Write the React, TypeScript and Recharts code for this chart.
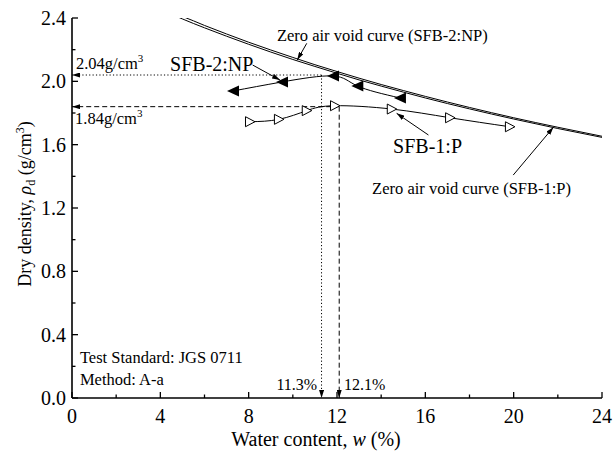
import React from "react";
import { Line, LineChart, ReferenceDot, ReferenceLine, XAxis, YAxis } from "recharts";

const serif = '"Liberation Serif", "Times New Roman", serif';

// SFB-2:NP compaction test (filled triangles)
const sfb2Water = [7.29, 9.51, 11.82, 12.92, 14.85];
const sfb2Density = [1.939, 1.996, 2.034, 1.971, 1.895];

// SFB-1:P compaction test (open triangles)
const sfb1Water = [8.06, 9.37, 10.63, 11.91, 14.48, 17.12, 19.83];
const sfb1Density = [1.745, 1.76, 1.815, 1.846, 1.825, 1.77, 1.713];

// zero air void curves
const zavWater = [4.8, 5, 6, 7, 8, 9, 10, 11, 12, 13, 14, 15, 16, 18, 20, 22, 24];
const zav2Density = [2.42, 2.41, 2.353, 2.299, 2.247, 2.198, 2.151, 2.105, 2.062, 2.02, 1.98, 1.942, 1.905, 1.835, 1.77, 1.71, 1.653];
const zav1Density = [2.406, 2.394, 2.338, 2.285, 2.234, 2.185, 2.138, 2.094, 2.051, 2.009, 1.97, 1.932, 1.895, 1.826, 1.762, 1.702, 1.646];

// optimum water content / max dry density
const optWater = [11.3, 12.1];
const optDensity = [2.04, 1.84];

const xTicks = [0, 2, 4, 6, 8, 10, 12, 14, 16, 18, 20, 22, 24];
const yTicks = [0, 0.2, 0.4, 0.6, 0.8, 1.0, 1.2, 1.4, 1.6, 1.8, 2.0, 2.2, 2.4];

const zip = (w: number[], d: number[]) => w.map((x, i) => ({ w: x, rho: d[i] }));
const sfb2 = zip(sfb2Water, sfb2Density);
const sfb1 = zip(sfb1Water, sfb1Density);
const zav2 = zip(zavWater, zav2Density);
const zav1 = zip(zavWater, zav1Density);

const isMajorX = (v: number) => Math.round(v) % 4 === 0;
const isMajorY = (v: number) => Math.round(v * 10) % 4 === 0;

function BottomTick(p: any) {
  const v = p.payload.value;
  const major = isMajorX(v);
  return (
    <g>
      <line x1={p.x} x2={p.x} y1={p.y} y2={p.y - (major ? 6 : 3.5)} stroke="#000" strokeWidth={1.3} />
      {major && (
        <text x={p.x} y={p.y + 25} textAnchor="middle" fontSize={20} fontFamily={serif} fill="#000">
          {v}
        </text>
      )}
    </g>
  );
}

function TopTick(p: any) {
  const major = isMajorX(p.payload.value);
  return <line x1={p.x} x2={p.x} y1={p.y} y2={p.y + (major ? 6 : 3.5)} stroke="#000" strokeWidth={1.3} />;
}

function LeftTick(p: any) {
  const v = p.payload.value;
  const major = isMajorY(v);
  return (
    <g>
      <line x1={p.x} x2={p.x + (major ? 6 : 3.5)} y1={p.y} y2={p.y} stroke="#000" strokeWidth={1.3} />
      {major && (
        <text x={p.x - 6} y={p.y + 7} textAnchor="end" fontSize={20} fontFamily={serif} fill="#000">
          {v.toFixed(1)}
        </text>
      )}
    </g>
  );
}

function RightTick(p: any) {
  const major = isMajorY(p.payload.value);
  return <line x1={p.x} x2={p.x - (major ? 6 : 3.5)} y1={p.y} y2={p.y} stroke="#000" strokeWidth={1.3} />;
}

function FilledLeft(p: any) {
  const { cx, cy } = p;
  return <path key={`f${p.index}`} d={`M${cx - 6},${cy}L${cx + 6},${cy - 5.5}L${cx + 6},${cy + 5.5}Z`} fill="#000" />;
}

function OpenRight(p: any) {
  const { cx, cy } = p;
  return (
    <path
      key={`o${p.index}`}
      d={`M${cx + 5},${cy}L${cx - 4.5},${cy - 5}L${cx - 4.5},${cy + 5}Z`}
      fill="#fff"
      stroke="#000"
      strokeWidth={1}
    />
  );
}

const arrowShape = (dash?: string) => (p: any) => (
  <line
    x1={p.x1}
    y1={p.y1}
    x2={p.x2}
    y2={p.y2}
    stroke="#000"
    strokeWidth={1}
    strokeDasharray={dash}
    markerEnd="url(#ah)"
  />
);

// label arrows: [from, to] in data units
const pointers = [
  [{ x: 10.63, y: 2.24 }, { x: 10.2, y: 2.135 }],
  [{ x: 8.18, y: 2.103 }, { x: 9.42, y: 2.008 }],
  [{ x: 16.14, y: 1.661 }, { x: 14.7, y: 1.798 }],
  [{ x: 19.98, y: 1.408 }, { x: 21.8, y: 1.71 }],
];

const textAt = (content: React.ReactNode, size: number, anchor = "start") => (p: any) => (
  <text x={p.cx} y={p.cy} fontSize={size} fontFamily={serif} fill="#000" textAnchor={anchor}>
    {content}
  </text>
);

const sup = (s: string) => (
  <>
    <tspan fontSize={11} dy={-7}>{s}</tspan>
    <tspan dy={7}></tspan>
  </>
);

export default function App() {
  return (
    <div style={{ position: "absolute", left: 0, top: 0, background: "#fff" }}>
      <LineChart width={614} height={453} margin={{ top: 18, right: 12, bottom: 25, left: 0 }}>
        <defs>
          <marker
            id="ah"
            viewBox="0 0 10 10"
            refX="10"
            refY="5"
            markerWidth="8"
            markerHeight="5"
            markerUnits="userSpaceOnUse"
            orient="auto"
            preserveAspectRatio="none"
          >
            <path d="M0,0L10,5L0,10Z" fill="#000" />
          </marker>
        </defs>
        <XAxis
          dataKey="w"
          type="number"
          domain={[0, 24]}
          ticks={xTicks}
          allowDataOverflow
          height={30}
          tickSize={0}
          tickMargin={0}
          tick={<BottomTick />}
          axisLine={{ stroke: "#000", strokeWidth: 1.6 }}
          interval={0}
        />
        <XAxis
          xAxisId="top"
          orientation="top"
          dataKey="w"
          type="number"
          domain={[0, 24]}
          ticks={xTicks}
          height={0}
          tickSize={0}
          tickMargin={0}
          tick={<TopTick />}
          axisLine={{ stroke: "#000", strokeWidth: 1.6 }}
          interval={0}
        />
        <YAxis
          type="number"
          domain={[0, 2.4]}
          ticks={yTicks}
          allowDataOverflow
          width={72}
          tickSize={0}
          tickMargin={0}
          tick={<LeftTick />}
          axisLine={{ stroke: "#000", strokeWidth: 1.6 }}
          interval={0}
        />
        <YAxis
          yAxisId="right"
          orientation="right"
          type="number"
          domain={[0, 2.4]}
          ticks={yTicks}
          width={0}
          tickSize={0}
          tickMargin={0}
          tick={<RightTick />}
          axisLine={{ stroke: "#000", strokeWidth: 1.6 }}
          interval={0}
        />

        <ReferenceLine segment={[{ x: optWater[0], y: optDensity[0] }, { x: 0, y: optDensity[0] }]} shape={arrowShape("1.2 2.2")} />
        <ReferenceLine segment={[{ x: optWater[0], y: optDensity[0] }, { x: optWater[0], y: 0 }]} shape={arrowShape("1.2 2.2")} />
        <ReferenceLine segment={[{ x: optWater[1], y: optDensity[1] }, { x: 0, y: optDensity[1] }]} shape={arrowShape("5 3")} />
        <ReferenceLine segment={[{ x: optWater[1], y: optDensity[1] }, { x: optWater[1], y: 0 }]} shape={arrowShape("5 3")} />
        {pointers.map((seg, i) => (
          <ReferenceLine key={`p${i}`} segment={seg} shape={arrowShape()} />
        ))}

        <Line data={zav2} dataKey="rho" type="monotone" stroke="#000" strokeWidth={1} dot={false} isAnimationActive={false} />
        <Line data={zav1} dataKey="rho" type="monotone" stroke="#000" strokeWidth={1} dot={false} isAnimationActive={false} />
        <Line data={sfb2} dataKey="rho" type="natural" stroke="#000" strokeWidth={1} dot={FilledLeft} isAnimationActive={false} />
        <Line data={sfb1} dataKey="rho" type="natural" stroke="#000" strokeWidth={1} dot={OpenRight} isAnimationActive={false} />

        <ReferenceDot x={9.28} y={2.255} r={0} shape={textAt("Zero air void curve (SFB-2:NP)", 16.5)} />
        <ReferenceDot x={13.59} y={1.288} r={0} shape={textAt("Zero air void curve (SFB-1:P)", 16.5)} />
        <ReferenceDot x={4.44} y={2.065} r={0} shape={textAt("SFB-2:NP", 20)} />
        <ReferenceDot x={14.54} y={1.547} r={0} shape={textAt("SFB-1:P", 20)} />
        <ReferenceDot x={0.18} y={2.078} r={0} shape={textAt(<>2.04g/cm{sup("3")}</>, 16.5)} />
        <ReferenceDot x={0.14} y={1.73} r={0} shape={textAt(<>1.84g/cm{sup("3")}</>, 16.5)} />
        <ReferenceDot x={0.36} y={0.221} r={0} shape={textAt("Test Standard: JGS 0711", 16.5)} />
        <ReferenceDot x={0.36} y={0.082} r={0} shape={textAt("Method: A-a", 16.5)} />
        <ReferenceDot x={11.1} y={0.05} r={0} shape={textAt("11.3%", 16, "end")} />
        <ReferenceDot x={12.32} y={0.05} r={0} shape={textAt("12.1%", 16)} />

        <text x={316} y={446} textAnchor="middle" fontSize={20} fontFamily={serif} fill="#000">
          Water content, <tspan fontStyle="italic">w</tspan> (%)
        </text>
        <text transform="translate(31,204) rotate(-90)" textAnchor="middle" fontSize={18} fontFamily={serif} fill="#000">
          Dry density, <tspan fontStyle="italic">ρ</tspan>
          <tspan fontSize={12} dy={4}>d</tspan>
          <tspan dy={-4}> (g/cm</tspan>
          <tspan fontSize={12} dy={-7}>3</tspan>
          <tspan dy={7}>)</tspan>
        </text>
      </LineChart>
    </div>
  );
}
